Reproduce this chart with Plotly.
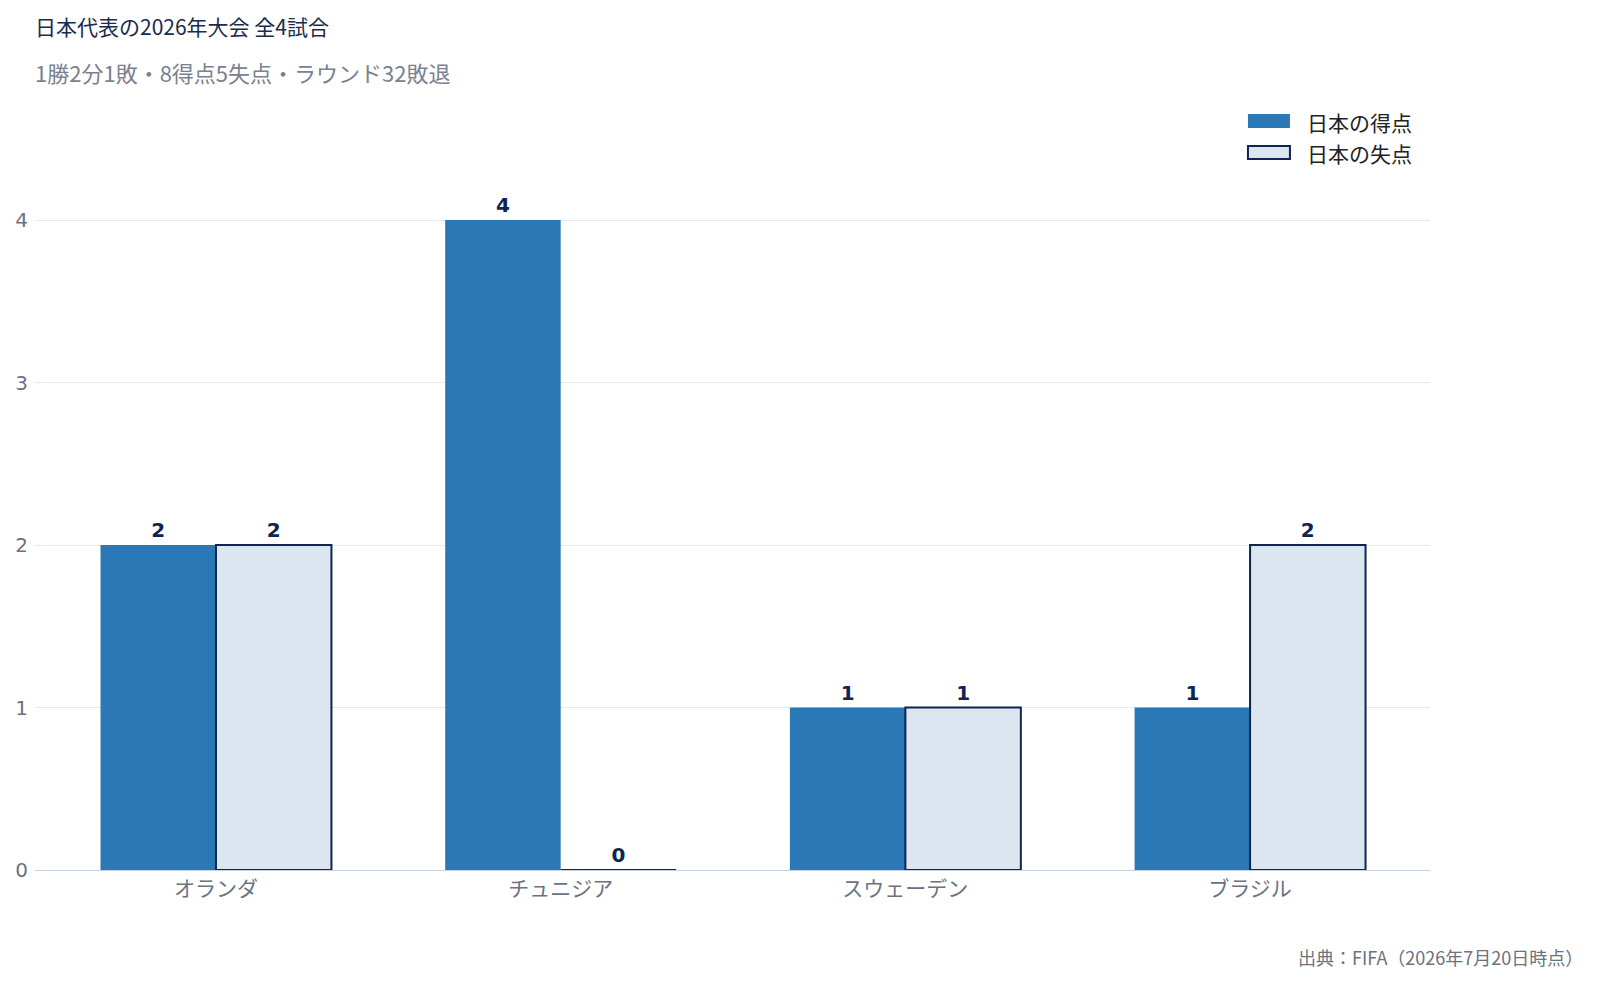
import plotly.graph_objects as go

opponents = ["オランダ", "チュニジア", "スウェーデン", "ブラジル"]
goals_for = [2, 4, 1, 1]
goals_against = [2, 0, 1, 2]
series_names = ["日本の得点", "日本の失点"]

title_text = "日本代表の2026年大会 全4試合"
subtitle_text = "1勝2分1敗・8得点5失点・ラウンド32敗退"
source_text = "出典：FIFA（2026年7月20日時点）"

NAVY = "#0d2550"
BLUE = "#2a78b5"
PALE = "#dce6f0"
GRAY = "#6b7280"
JP = "Noto Sans CJK JP"
label_font = dict(family="DejaVu Sans, " + JP, size=20, color=NAVY, weight="bold")

fig = go.Figure()
fig.add_trace(go.Bar(
    x=opponents, y=goals_for, name=series_names[0],
    marker=dict(color=BLUE, line=dict(width=0)),
    text=goals_for, textposition="outside", textfont=label_font,
    cliponaxis=False, showlegend=False,
))
fig.add_trace(go.Bar(
    x=opponents, y=goals_against, name=series_names[1],
    marker=dict(color=PALE, line=dict(color=NAVY, width=2)),
    text=goals_against, textposition="outside", textfont=label_font,
    cliponaxis=False, showlegend=False,
))

# hand-made legend with wide swatches (top right, inside the plot)
fig.add_shape(type="rect", xref="paper", yref="paper",
              x0=0.8695, x1=0.8996, y0=1.0378, y1=1.0573,
              fillcolor=BLUE, line=dict(width=0))
fig.add_shape(type="rect", xref="paper", yref="paper",
              x0=0.8695, x1=0.8996, y0=0.9944, y1=1.0126,
              fillcolor=PALE, line=dict(color=NAVY, width=2))

annotations = [
    dict(text=title_text, x=-0.0015, y=1.180, xanchor="left", yanchor="middle",
         font=dict(family=JP, size=21, color="#1a2b4c")),
    dict(text=subtitle_text, x=-0.0015, y=1.116, xanchor="left", yanchor="middle",
         font=dict(family=JP, size=22, color="#7a8190")),
    dict(text=series_names[0], x=0.9105, y=1.0462, xanchor="left", yanchor="middle",
         font=dict(family=JP, size=21, color="#222222")),
    dict(text=series_names[1], x=0.9105, y=1.0028, xanchor="left", yanchor="middle",
         font=dict(family=JP, size=21, color="#222222")),
    dict(text=source_text, x=1.111, y=-0.1217, xanchor="right", yanchor="middle",
         font=dict(family=JP, size=18, color=GRAY)),
]
for a in annotations:
    a.update(xref="paper", yref="paper", showarrow=False)

fig.update_layout(
    width=1598, height=981,
    paper_bgcolor="white", plot_bgcolor="white",
    margin=dict(l=27, r=176, t=147, b=119),
    bargap=0.33, bargroupgap=0,
    font=dict(family=JP, color=GRAY),
    xaxis=dict(
        range=[-0.525, 3.522],
        showgrid=False, showline=True, linecolor="#c8d3df", linewidth=1,
        tickfont=dict(family=JP, size=21, color=GRAY),
        ticks="", automargin=False,
    ),
    yaxis=dict(
        range=[0, 4.4], dtick=1, showgrid=True, gridcolor="#e6e8eb",
        zeroline=True, zerolinecolor="#c8d3df", zerolinewidth=1,
        tickfont=dict(family="DejaVu Sans, " + JP, size=20, color=GRAY),
        ticks="", ticklabelstandoff=6, automargin=False,
    ),
    annotations=annotations,
)

fig.write_html("out.html")
